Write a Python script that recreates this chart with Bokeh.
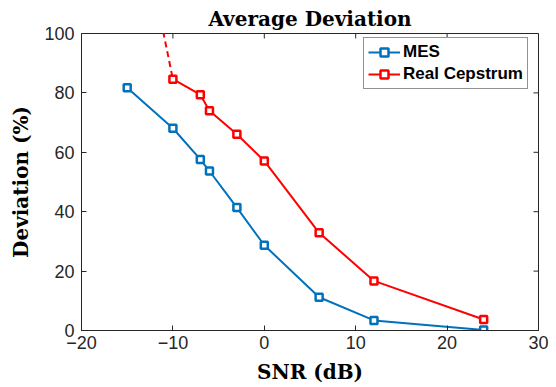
import math
from bokeh.plotting import figure
from bokeh.models import FixedTicker, Range1d, Legend, LegendItem
from bokeh.embed import file_html
from bokeh.resources import INLINE

# Data
snr_mes = [-15, -10, -7, -6, -3, 0, 6, 12, 24]
dev_mes = [81.7, 68.1, 57.6, 53.7, 41.4, 28.7, 11.2, 3.4, 0.2]
snr_rc = [-10, -7, -6, -3, 0, 6, 12, 24]
dev_rc = [84.6, 79.4, 74.0, 66.1, 57.1, 32.9, 16.7, 3.7]
snr_rc_ext = [-15, -10]
dev_rc_ext = [160.0, 84.6]
x_ticks = [-20, -10, 0, 10, 20, 30]
y_ticks = [0, 20, 40, 60, 80, 100]

BLUE = "#0072BD"
RED = "#FF0000"
AX = "#262626"

x_range = Range1d(-20, 30)
y_range = Range1d(0, 100)

p = figure(frame_width=457, frame_height=297,
           x_range=x_range, y_range=y_range,
           output_backend="svg", toolbar_location=None,
           min_border_left=81, min_border_right=18,
           min_border_top=33, min_border_bottom=57,
           title="Average Deviation")
p.title.align = "center"
p.title.text_font = "DejaVu Serif"
p.title.text_font_size = "20px"
p.title.text_font_style = "bold"
p.title.text_color = "#000000"
p.title.standoff = 6
p.grid.visible = False
p.outline_line_color = AX
p.outline_line_width = 1
p.background_fill_color = "white"
p.border_fill_color = "white"

for ax, ticks in ((p.xaxis[0], x_ticks), (p.yaxis[0], y_ticks)):
    ax.ticker = FixedTicker(ticks=ticks)
    ax.major_tick_in = 5
    ax.major_tick_out = 0
    ax.minor_tick_line_color = None
    ax.axis_line_color = AX
    ax.major_tick_line_color = AX
    ax.major_label_text_font = "Liberation Sans"
    ax.major_label_text_font_size = "18px"
    ax.major_label_text_color = AX
    ax.axis_label_text_font = "DejaVu Serif"
    ax.axis_label_text_font_size = "20px"
    ax.axis_label_text_font_style = "bold"
    ax.axis_label_text_color = "#000000"

p.xaxis.axis_label = "SNR (dB)"
p.yaxis.axis_label = "Deviation (%)"
p.xaxis.major_label_standoff = 5
p.yaxis.major_label_standoff = 7
p.xaxis.axis_label_standoff = 8
p.yaxis.axis_label_standoff = 8

# mirror ticks on the top and right edges of the box
p.ray(x=x_ticks, y=[y_range.end] * len(x_ticks), length=5, length_units="screen",
      angle=-math.pi / 2, line_color=AX, line_width=1)
p.ray(x=[x_range.end] * len(y_ticks), y=y_ticks, length=5, length_units="screen",
      angle=math.pi, line_color=AX, line_width=1)

p.line(snr_rc_ext, dev_rc_ext, color=RED, line_width=2, line_dash="6 4")
l1 = p.line(snr_mes, dev_mes, color=BLUE, line_width=2)
m1 = p.scatter(snr_mes, dev_mes, marker="square", size=7, line_color=BLUE,
               line_width=2.5, fill_color="white")
l2 = p.line(snr_rc, dev_rc, color=RED, line_width=2)
m2 = p.scatter(snr_rc, dev_rc, marker="square", size=7, line_color=RED,
               line_width=2.5, fill_color="white")

legend = Legend(items=[LegendItem(label="MES", renderers=[l1, m1]),
                       LegendItem(label="Real Cepstrum", renderers=[l2, m2])],
                location=(282, 241))
legend.label_text_font = "Liberation Sans"
legend.label_text_font_size = "17px"
legend.label_text_font_style = "bold"
legend.label_text_color = "#000000"
legend.glyph_width = 32
legend.glyph_height = 20
legend.label_height = 20
legend.label_standoff = 3
legend.padding = 4
legend.spacing = 2
legend.margin = 0
legend.border_line_color = AX
legend.border_line_width = 1
legend.background_fill_alpha = 1
p.add_layout(legend, "center")

open("out.html", "w").write(file_html(p, INLINE))
